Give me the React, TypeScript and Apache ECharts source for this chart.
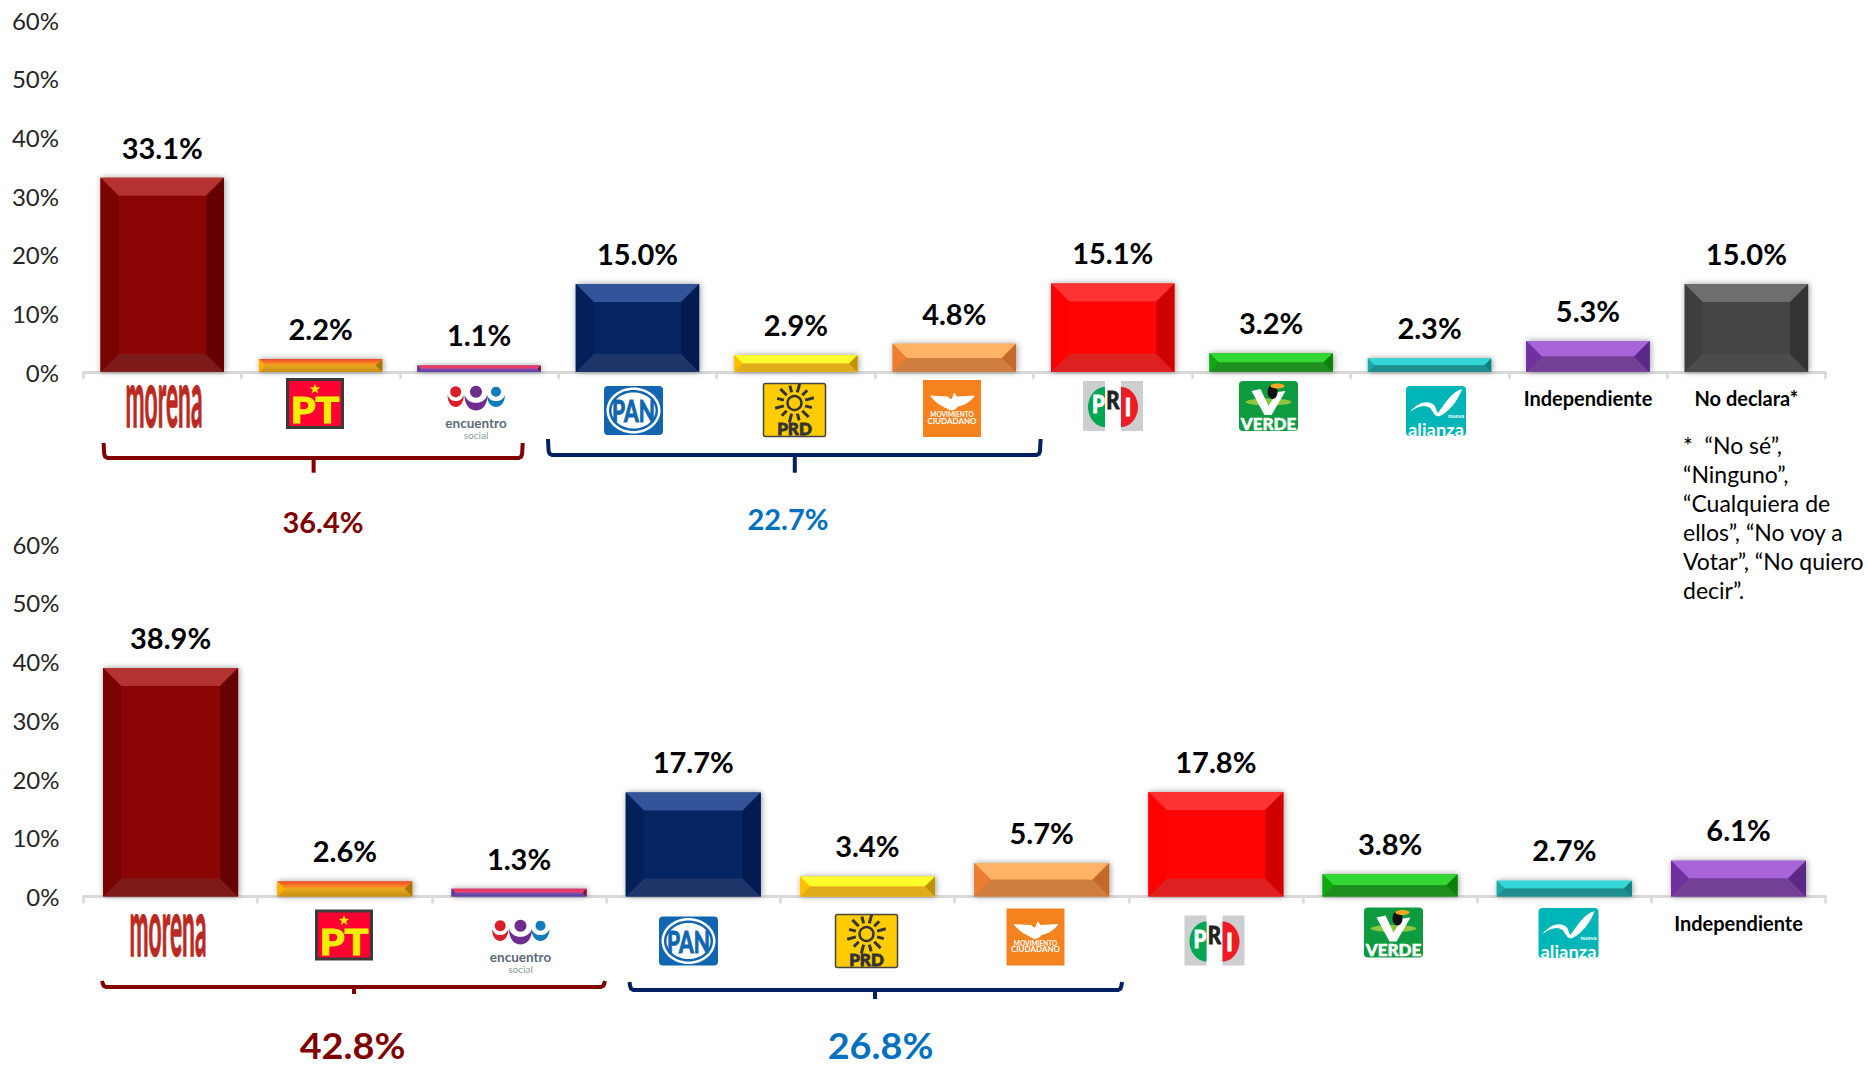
import React, { useEffect, useRef } from "react";
import * as echarts from "echarts";

const categoriesTop = ["morena", "PT", "encuentro social", "PAN", "PRD", "Movimiento Ciudadano", "PRI", "Verde", "Nueva Alianza", "Independiente", "No declara*"];
const valuesTop = [33.1, 2.2, 1.1, 15.0, 2.9, 4.8, 15.1, 3.2, 2.3, 5.3, 15.0];
const categoriesBottom = ["morena", "PT", "encuentro social", "PAN", "PRD", "Movimiento Ciudadano", "PRI", "Verde", "Nueva Alianza", "Independiente"];
const valuesBottom = [38.9, 2.6, 1.3, 17.7, 3.4, 5.7, 17.8, 3.8, 2.7, 6.1];
const textCategories = ["Independiente", "No declara*"];
const footnote = "*  “No sé”,\n“Ninguno”,\n“Cualquiera de\nellos”, “No voy a\nVotar”, “No quiero\ndecir”.";
const groupTotals = ["36.4%", "22.7%", "42.8%", "26.8%"];

const FONT = "Lato, 'Noto Sans', sans-serif";

const vGrad = (a: string, b: string) => ({ type: "linear", x: 0, y: 0, x2: 0, y2: 1, colorStops: [{ offset: 0, color: a }, { offset: 1, color: b }] });

const palette: Record<string, any> = {
  morena: { top: "#B53232", left: "#770303", right: "#670000", bottom: "#7D1A1A", center: "#8B0505" },
  PT: { top: vGrad("#F04A2C", "#FFA41F"), left: "#FFB000", right: "#A8740E", bottom: vGrad("#E4A81E", "#C88E12"), center: "#E0A020" },
  "encuentro social": { top: vGrad("#F02C58", "#E04A78"), left: "#5A3AA0", right: "#7A1030", bottom: vGrad("#8A4CB0", "#5040A0"), center: "#7040A0" },
  PAN: { top: "#34549A", left: "#032058", right: "#021A50", bottom: "#1D3568", center: "#042462" },
  PRD: { top: "#FFFF2E", left: "#FFC000", right: "#BF9000", bottom: "#E0AC1C", center: "#FFC000" },
  "Movimiento Ciudadano": { top: "#FFB366", left: "#ED7D31", right: "#C4692B", bottom: "#D07D40", center: "#ED7D31" },
  PRI: { top: "#FF3333", left: "#FF0000", right: "#D10000", bottom: "#DF2020", center: "#FF0505" },
  Verde: { top: "#33D633", left: "#0FA80F", right: "#0A7F0A", bottom: "#1E8E1E", center: "#11A011" },
  "Nueva Alianza": { top: "#33D6D6", left: "#1FA8A8", right: "#108080", bottom: "#1F8E8E", center: "#1FA8A8" },
  Independiente: { top: "#A765D9", left: "#7030A0", right: "#5A2885", bottom: "#744096", center: "#7030A0" },
  "No declara*": { top: "#6E6E6E", left: "#3F3F3F", right: "#333333", bottom: "#4B4B4B", center: "#454545" },
};

// ---- reusable element helpers ----
const txt = (text: string, x: number, y: number, font: string, fill: string, o: any = {}) => ({
  type: "text", x, y, scaleX: o.sx ?? 1, scaleY: o.sy ?? 1,
  style: {
    text, x: 0, y: 0, font, fill,
    align: o.align ?? "center", verticalAlign: o.va ?? "middle",
    textAlign: o.align ?? "center", textVerticalAlign: o.va ?? "middle",
    ...(o.stroke ? { stroke: o.stroke, lineWidth: o.lw ?? 0.6 } : {}),
    ...(o.lineHeight ? { lineHeight: o.lineHeight } : {}),
  },
});
const rect = (x: number, y: number, w: number, h: number, fill: string, r = 0, extra: any = {}) => ({ type: "rect", shape: { x, y, width: w, height: h, r }, style: { fill, ...extra } });
const circle = (cx: number, cy: number, r: number, fill: string) => ({ type: "circle", shape: { cx, cy, r }, style: { fill } });
const ellipse = (cx: number, cy: number, rx: number, ry: number, fill: string) => ({ type: "ellipse", shape: { cx, cy, rx, ry }, style: { fill } });
const poly = (points: number[][], fill: any) => ({ type: "polygon", shape: { points }, style: { fill } });
const star = (cx: number, cy: number, R: number, fill: string) => {
  const pts: number[][] = [];
  for (let k = 0; k < 10; k++) {
    const r = k % 2 ? R * 0.42 : R;
    const a = -Math.PI / 2 + (k * Math.PI) / 5;
    pts.push([cx + r * Math.cos(a), cy + r * Math.sin(a)]);
  }
  return poly(pts, fill);
};

const registerShapes = () => {
  echarts.graphic.registerShape("crescentShape", echarts.graphic.extendPath("M-8 0 C-8 16 8 16 8 0 C6 5 3 6 0 6 C-3 6 -6 5 -8 0Z", {}));
  echarts.graphic.registerShape("swooshShape", echarts.graphic.extendPath("M-26 1 C-18 -9 -8 -11 -2 -6 C0 -4 0 0 2 2 C8 -6 14 -18 26 -22 C24 -15 16 -1 4 5 C-1 7 -3 0 -6 -3 C-11 -7 -18 -5 -26 1Z", {}));
  echarts.graphic.registerShape("eagleShape", echarts.graphic.extendPath("M-22 -13 L-4 -12 C-3 -10 -1 -9 0 -10 L2 -16 L5 -12 L23 -13 C18 -6 12 -3 6 -2 C4 2 -2 3 -5 0 C-10 -2 -17 -6 -22 -13Z", {}));
  echarts.graphic.registerShape("priLeftShape", echarts.graphic.extendPath("M-8 -20 C-18 -20 -25 -10 -25 0 C-25 10 -18 20 -8 20Z", {}));
  echarts.graphic.registerShape("priRightShape", echarts.graphic.extendPath("M8 -20 C18 -20 25 -10 25 0 C25 10 18 20 8 20Z", {}));
};

const logoBuilders: Record<string, () => any[]> = {
  morena: () => [txt("morena", 0, -8, `bold 30px ${FONT}`, "#BA2A22", { sx: 0.76, sy: 2.7, stroke: "#BA2A22", lw: 0.5 })],
  PT: () => [
    rect(-27.5, -24, 55, 48, "#FF0033", 0, { stroke: "#3A3A3A", lineWidth: 3 }),
    star(0, -14.5, 5.5, "#F5EE00"),
    txt("PT", 0, 6, `900 36px ${FONT}`, "#F5EE00", { sx: 1.1, stroke: "#F5EE00", lw: 1 }),
  ],
  "encuentro social": () => [
    circle(-20.3, -20.3, 5.5, "#D9202A"), { type: "crescentShape", x: -20.3, y: -17, scaleX: 1.02, scaleY: 1, style: { fill: "#D9202A" } },
    circle(0, -20.3, 6, "#6C2D8C"), { type: "crescentShape", x: 0, y: -17, scaleX: 1.44, scaleY: 1.3, style: { fill: "#6C2D8C" } },
    circle(20, -20.3, 5, "#0F7DBB"), { type: "crescentShape", x: 20, y: -17, scaleX: 1.12, scaleY: 1, style: { fill: "#0F7DBB" } },
    txt("encuentro", 0, 10.5, `bold 13.5px ${FONT}`, "#5A6B78"),
    txt("social", 0, 23, `10px ${FONT}`, "#8A9AA5"),
  ],
  PAN: () => [
    rect(-29.5, -24.5, 59, 49, "#1066B0", 4),
    ellipse(0, 0, 27, 23, "#FFFFFF"),
    ellipse(0, 0, 24.5, 20.5, "#1066B0"),
    ellipse(0, 0, 22, 18, "#FFFFFF"),
    txt("PAN", 0, 0, `bold 27px ${FONT}`, "#1066B0", { sx: 0.78, sy: 1.1, stroke: "#1066B0", lw: 1 }),
  ],
  PRD: () => {
    const rays: any[] = [];
    for (let k = 0; k < 12; k++) {
      const a = (k * Math.PI) / 6 + Math.PI / 12;
      const outer = k % 2 ? 20 : 18;
      rays.push({ type: "line", shape: { x1: 11 * Math.cos(a), y1: -7 + 11 * Math.sin(a), x2: outer * Math.cos(a), y2: -7 + outer * Math.sin(a) }, style: { stroke: "#333333", lineWidth: 3 } });
    }
    return [
      rect(-31, -26.5, 62, 53, "#FFCC00", 2, { stroke: "#444444", lineWidth: 1.5 }),
      ...rays,
      { type: "circle", shape: { cx: 0, cy: -7, r: 7 }, style: { fill: "none", stroke: "#333333", lineWidth: 2.4 } },
      txt("PRD", 0, 18, `900 17px ${FONT}`, "#333333", { stroke: "#333333", lw: 0.8 }),
    ];
  },
  "Movimiento Ciudadano": () => [
    rect(-29, -28.5, 58, 57, "#F6821F"),
    { type: "eagleShape", x: 0, y: 0, style: { fill: "#FFFFFF" } },
    txt("MOVIMIENTO", 0, 6, `bold 6.5px ${FONT}`, "#FFFFFF"),
    txt("CIUDADANO", 0, 12, `bold 8px ${FONT}`, "#FFFFFF"),
  ],
  PRI: () => [
    rect(-30, -25, 22, 50, "#CDCED0"),
    rect(8, -25, 22, 50, "#CDCED0"),
    { type: "priLeftShape", x: 0, y: 1, style: { fill: "#00A651" } },
    { type: "priRightShape", x: 0, y: 1, style: { fill: "#ED1C24" } },
    txt("P", -14.5, -2, `900 24px ${FONT}`, "#FFFFFF", { sx: 0.85, stroke: "#FFFFFF", lw: 0.8 }),
    txt("R", 0, -6, `900 24px ${FONT}`, "#222222", { sx: 0.85, stroke: "#222222", lw: 0.8 }),
    txt("I", 15, 1, `900 24px ${FONT}`, "#FFFFFF", { sx: 0.9, stroke: "#FFFFFF", lw: 0.8 }),
  ],
  Verde: () => [
    rect(-29.5, -25, 59, 50, "#0E9A3E", 4),
    ellipse(0, -4, 23, 3.5, "#8CC63F"),
    poly([[-17, -15], [-8, -17], [0, 0], [9, -14], [17, -15], [3, 9], [-4, 9]], "#FFFFFF"),
    ellipse(4, -14, 5, 7, "#111111"),
    ellipse(9, -20, 7, 2.5, "#F7A823"),
    txt("VERDE", 0, 17, `900 17px ${FONT}`, "#FFFFFF", { stroke: "#FFFFFF", lw: 0.5 }),
  ],
  "Nueva Alianza": () => [
    rect(-30, -25, 60, 50, "#00B5B8", 4),
    { type: "swooshShape", x: 0, y: 0, style: { fill: "#FFFFFF" } },
    txt("nueva", 20, 4.5, `bold 6px ${FONT}`, "#FFFFFF"),
    txt("alianza", 0, 18.5, `bold 17px ${FONT}`, "#FFFFFF", { sx: 1.08 }),
  ],
};

// logo centres in page pixels
const logoLayoutTop: [string, number, number][] = [
  ["morena", 164, 403.5], ["PT", 315, 403.5], ["encuentro social", 476, 412], ["PAN", 633.5, 410.5], ["PRD", 794.5, 410],
  ["Movimiento Ciudadano", 952, 408.5], ["PRI", 1113, 406], ["Verde", 1268.5, 406], ["Nueva Alianza", 1436, 411],
];
const logoLayoutBottom: [string, number, number][] = [
  ["morena", 168, 933], ["PT", 344, 935], ["encuentro social", 520.5, 946], ["PAN", 688.5, 941], ["PRD", 866.5, 941],
  ["Movimiento Ciudadano", 1035.5, 937], ["PRI", 1214.5, 940.5], ["Verde", 1393.5, 932.5], ["Nueva Alianza", 1568.5, 933],
];

const bracket = (xL: number, xR: number, yTop: number, yBar: number, stemX: number, stemEnd: number, color: string) => [
  {
    type: "polyline",
    shape: { points: [[xL, yTop], [xL + 0.6, yBar - 4], [xL + 1.6, yBar - 1.2], [xL + 4, yBar], [stemX, yBar], [xR - 4, yBar], [xR - 1.6, yBar - 1.2], [xR - 0.6, yBar - 4], [xR, yTop]] },
    style: { stroke: color, lineWidth: 4, fill: "none", lineJoin: "round" },
  },
  { type: "line", shape: { x1: stemX, y1: yBar, x2: stemX, y2: stemEnd }, style: { stroke: color, lineWidth: 4 } },
];

const barRenderer = (names: string[], ratio: number) => (_p: any, api: any) => {
  const i = api.value(0);
  const v = api.value(1);
  const [cx, top] = api.coord([i, v]);
  const [, base] = api.coord([i, 0]);
  const w = api.size([1, 0])[0] * ratio;
  const h = base - top;
  const b = Math.min(18, h / 2);
  const l = cx - w / 2;
  const r = cx + w / 2;
  const c = palette[names[i]];
  return {
    type: "group",
    children: [
      { type: "rect", shape: { x: l, y: top, width: w, height: h }, style: { fill: c.center, shadowBlur: 6, shadowColor: "rgba(0,0,0,0.4)", shadowOffsetX: 1, shadowOffsetY: 0 } },
      poly([[l + b, top + b], [r - b, top + b], [r - b, base - b], [l + b, base - b]], c.center),
      poly([[l, top], [r, top], [r - b, top + b], [l + b, top + b]], c.top),
      poly([[l, base], [r, base], [r - b, base - b], [l + b, base - b]], c.bottom),
      poly([[l, top], [l + b, top + b], [l + b, base - b], [l, base]], c.left),
      poly([[r, top], [r - b, top + b], [r - b, base - b], [r, base]], c.right),
      txt(`${v.toFixed(1)}%`, cx, top - 30.7, `bold 29px ${FONT}`, "#000000"),
    ],
  };
};

const xAxisFor = (names: string[], gridIndex: number) => ({
  type: "category", gridIndex, data: names, boundaryGap: true,
  axisLine: { show: true, lineStyle: { color: "#D9D9D9", width: 3 } },
  axisTick: { show: true, alignWithLabel: false, length: 7, lineStyle: { color: "#D9D9D9", width: 2.5 } },
  axisLabel: {
    interval: 0, margin: 16, color: "#000000", fontFamily: FONT, fontWeight: "bold", fontSize: 20,
    formatter: (v: string) => (textCategories.includes(v) ? v : ""),
  },
});
const yAxisFor = (gridIndex: number) => ({
  type: "value", gridIndex, min: 0, max: 60, interval: 10,
  axisLine: { show: false }, axisTick: { show: false }, splitLine: { show: false },
  axisLabel: { margin: 24, color: "#262626", fontFamily: FONT, fontSize: 24, padding: [0, 0, 3, 0], formatter: "{value}%" },
});

export default function App() {
  const ref = useRef<HTMLDivElement>(null);
  useEffect(() => {
    registerShapes();
    const chart = echarts.init(ref.current as HTMLDivElement, undefined, { renderer: "svg" });
    const logos = (layout: [string, number, number][]) =>
      layout.map(([name, x, y]) => ({ type: "group", x, y, children: logoBuilders[name]() }));
    const option: any = {
      animation: false,
      backgroundColor: "#FFFFFF",
      grid: [
        { left: 83, right: 42.4, top: 20, height: 352 },
        { left: 83.5, right: 42.4, top: 544, height: 352.5 },
      ],
      xAxis: [xAxisFor(categoriesTop, 0), xAxisFor(categoriesBottom, 1)],
      yAxis: [yAxisFor(0), yAxisFor(1)],
      series: [
        { type: "custom", xAxisIndex: 0, yAxisIndex: 0, clip: false, encode: { x: 0, y: 1 }, data: valuesTop.map((v, i) => [i, v]), renderItem: barRenderer(categoriesTop, 0.779) },
        { type: "custom", xAxisIndex: 1, yAxisIndex: 1, clip: false, encode: { x: 0, y: 1 }, data: valuesBottom.map((v, i) => [i, v]), renderItem: barRenderer(categoriesBottom, 0.775) },
      ],
      graphic: {
        elements: [
          ...logos(logoLayoutTop),
          ...logos(logoLayoutBottom),
          ...bracket(103.6, 522.7, 443, 458, 313.6, 472.7, "#800000"),
          ...bracket(548, 1040.6, 439, 455, 794.8, 472.7, "#002060"),
          ...bracket(102, 605, 981, 987, 354, 994, "#800000"),
          ...bracket(629.5, 1122, 982, 990, 875, 999, "#002060"),
          txt(groupTotals[0], 323, 521, `bold 29px ${FONT}`, "#800000"),
          txt(groupTotals[1], 788, 518.5, `bold 29px ${FONT}`, "#0070C0"),
          txt(groupTotals[2], 352.5, 1045, `bold 36px ${FONT}`, "#800000", { sx: 1.05 }),
          txt(groupTotals[3], 880.5, 1045, `bold 36px ${FONT}`, "#0070C0", { sx: 1.05 }),
          txt(footnote, 1683, 430, `23px ${FONT}`, "#000000", { align: "left", va: "top", lineHeight: 29 }),
        ],
      },
    };
    chart.setOption(option);
    return () => chart.dispose();
  }, []);
  return <div ref={ref} style={{ position: "absolute", left: 0, top: 0, width: 1868, height: 1067 }} />;
}
